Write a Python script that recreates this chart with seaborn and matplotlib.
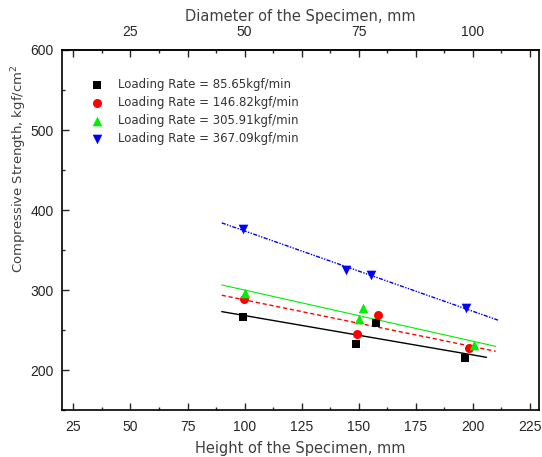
import numpy as np
import pandas as pd
import seaborn as sns
import matplotlib.pyplot as plt
from matplotlib.ticker import MultipleLocator, FixedLocator, FuncFormatter

# Data (height in mm, compressive strength in kgf/cm^2)
labels = ['Loading Rate = 85.65kgf/min', 'Loading Rate = 146.82kgf/min',
          'Loading Rate = 305.91kgf/min', 'Loading Rate = 367.09kgf/min']
height_85 = [99.2, 148.8, 157.5, 196.7]
strength_85 = [266.5, 232.6, 258.6, 215.0]
height_146 = [99.8, 149.1, 158.6, 198.5]
strength_146 = [288.2, 245.5, 269.0, 227.6]
height_305 = [100.2, 151.8, 150.1, 200.5]
strength_305 = [296.2, 278.1, 264.3, 231.7]
height_367 = [99.5, 144.3, 155.3, 196.9]
strength_367 = [376.4, 325.0, 319.1, 278.1]

# range of the fitted lines
fit_start = [90, 90, 90, 90]
fit_end = [206, 210, 210, 211]

sns.set_style('ticks')
plt.rcParams['font.family'] = ['Liberation Sans', 'DejaVu Sans']
plt.rcParams['mathtext.default'] = 'regular'

fig, ax = plt.subplots(figsize=(5.42, 4.57), dpi=100)
fig.subplots_adjust(left=0.1144, right=0.9945, bottom=0.1028, top=0.8906)

colors = ['black', '#ff0000', '#00ee00', '#0000ff']
markers = ['s', 'o', '^', 'v']
sizes = [34, 42, 48, 48]
line_styles = ['-', (0, (3, 2)), '-', (0, (3, 1, 1, 1, 1, 1))]
line_widths = [1.0, 1.0, 0.8, 1.0]

series = [(height_85, strength_85), (height_146, strength_146),
          (height_305, strength_305), (height_367, strength_367)]

for i, (hx, sy) in enumerate(series):
    # linear fit
    k, b = np.polyfit(hx, sy, 1)
    xf = np.array([fit_start[i], fit_end[i]])
    sns.lineplot(x=xf, y=k * xf + b, ax=ax, color=colors[i], linestyle=line_styles[i],
                 linewidth=line_widths[i], legend=False)
    sns.scatterplot(x=hx, y=sy, ax=ax, color=colors[i], marker=markers[i], s=sizes[i],
                    edgecolor=colors[i], linewidth=0, label=labels[i], zorder=3)

ax.set_xlim(20, 229)
ax.set_ylim(150, 600)

ax.xaxis.set_major_locator(MultipleLocator(25))
ax.xaxis.set_minor_locator(MultipleLocator(12.5))
ax.yaxis.set_major_locator(MultipleLocator(100))
ax.yaxis.set_minor_locator(MultipleLocator(50))
ax.tick_params(which='both', direction='in', top=False, right=False, labelsize=10)
ax.tick_params(axis='x', which='both', pad=7.5)
ax.tick_params(axis='y', which='both', pad=6)
ax.tick_params(which='major', length=5, width=1)
ax.tick_params(which='minor', length=2.5, width=1)

for s in ax.spines.values():
    s.set_visible(True)
    s.set_linewidth(1.2)
    s.set_color('black')

label_color = '#404040'
ax.set_xlabel('Height of the Specimen, mm', fontsize=10.5, color=label_color,
              labelpad=5, family='DejaVu Sans')
ax.set_ylabel('Compressive Strength, kgf/cm$^{2}$', fontsize=9.5, color=label_color,
              family='DejaVu Sans')
ax.yaxis.set_label_coords(-0.069, 0.669)

# top axis: diameter = height / 2
top = ax.secondary_xaxis('top', functions=(lambda x: x / 2, lambda x: x * 2))
top.xaxis.set_major_locator(FixedLocator(np.arange(12.5, 115, 12.5)))
top.xaxis.set_minor_locator(FixedLocator(np.arange(6.25, 115, 6.25)))
top.xaxis.set_major_formatter(FuncFormatter(lambda v, p: f'{v:g}' if v % 25 == 0 else ''))
top.tick_params(which='both', direction='in', labelsize=10, pad=8)
top.tick_params(which='major', length=5, width=1)
top.tick_params(which='minor', length=2.5, width=1)
top.spines['top'].set_linewidth(1.2)
top.set_xlabel('Diameter of the Specimen, mm', fontsize=10.5, color=label_color,
               labelpad=3, family='DejaVu Sans')

leg = ax.legend(loc='upper left', bbox_to_anchor=(0.039, 0.935), frameon=False,
                prop={'family': 'DejaVu Sans', 'size': 8.5},
                labelspacing=0.41, handletextpad=0.8, borderaxespad=0)
for t in leg.get_texts():
    t.set_color('#333333')

fig.savefig('out.png', dpi=100)
